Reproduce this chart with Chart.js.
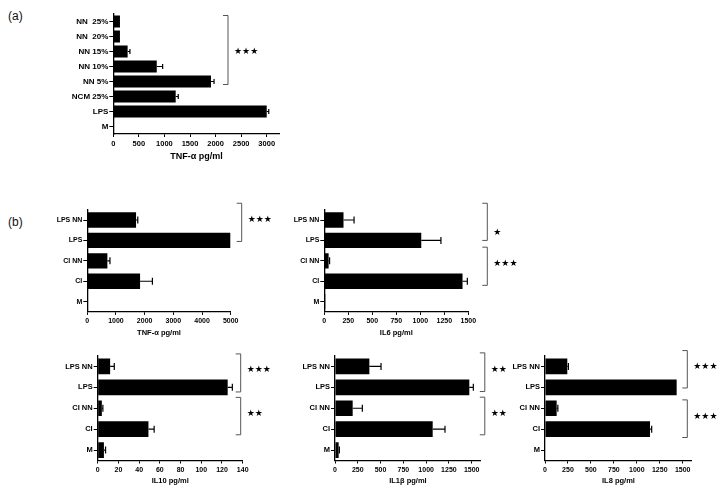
<!DOCTYPE html>
<html>
<head>
<meta charset="utf-8">
<script src="https://cdn.jsdelivr.net/npm/chart.js@4.4.0/dist/chart.umd.min.js"></script>
<style>
  body { margin: 0; background: #fff; width: 724px; height: 501px; position: relative; overflow: hidden; font-family: "Liberation Sans", Arial, sans-serif; }
  canvas { position: absolute; }
  .tag { position: absolute; font-size: 12px; color: #111; }
</style>
</head>
<body>
<div class="tag" style="left:8px;top:9px">(a)</div>
<div class="tag" style="left:8px;top:215px">(b)</div>
<canvas id="chartA" width="300" height="170" style="left:0;top:0"></canvas>
<canvas id="chartTnf" width="280" height="150" style="left:0;top:195px"></canvas>
<canvas id="chartIl6" width="244" height="150" style="left:280px;top:195px"></canvas>
<canvas id="chartIl10" width="275" height="156" style="left:0;top:345px"></canvas>
<canvas id="chartIl1b" width="240" height="156" style="left:275px;top:345px"></canvas>
<canvas id="chartIl8" width="214" height="156" style="left:510px;top:345px"></canvas>
<script>
// (a) dose response
const doseLabels = ["NN  25%", "NN  20%", "NN 15%", "NN 10%", "NN 5%", "NCM 25%", "LPS", "M"];
const tnfDose = [130, 130, 280, 850, 1910, 1220, 3000, 0];
const tnfDoseErr = [0, 0, 45, 115, 60, 50, 40, 0];
const tnfDoseTicks = [0, 500, 1000, 1500, 2000, 2500, 3000];

// (b) cytokines
const groupLabels = ["LPS NN", "LPS", "CI NN", "CI", "M"];
const tnf = [1700, 4990, 700, 1840, 15];
const tnfErr = [60, 0, 90, 430, 0];
const tnfTicks = [0, 1000, 2000, 3000, 4000, 5000];
const il6 = [200, 1010, 45, 1440, 10];
const il6Err = [110, 205, 10, 50, 0];
const il10 = [12, 125.5, 4, 49, 6];
const il10Err = [4, 4.5, 1, 5.5, 1.6];
const il10Ticks = [0, 20, 40, 60, 80, 100, 120, 140];
const il1b = [377, 1474, 194, 1072, 40];
const il1bErr = [128, 44, 106, 135, 8];
const il8 = [243, 1434, 127, 1144, 0];
const il8Err = [12, 0, 13, 18, 0];
const pgTicks = [0, 250, 500, 750, 1000, 1250, 1500];

const FONT = "'Liberation Sans', Arial, sans-serif";

// error bar plugin block
const errorBars = {
  id: "errorBars",
  afterDatasetsDraw(chart, args, opts) {
    const { ctx, data, scales: { x, y } } = chart;
    const ds = data.datasets[0];
    ctx.save();
    ctx.strokeStyle = "#000";
    ctx.lineWidth = 1.2;
    ds.data.forEach((v, i) => {
      const e = ds.errors[i];
      if (!e) return;
      const x0 = x.getPixelForValue(v);
      const x1 = x.getPixelForValue(v + e);
      const yc = y.getPixelForValue(i);
      ctx.beginPath();
      ctx.moveTo(x0, yc);
      ctx.lineTo(x1, yc);
      ctx.moveTo(x1, yc - opts.cap);
      ctx.lineTo(x1, yc + opts.cap);
      ctx.stroke();
    });
    ctx.restore();
  },
};

// significance brackets plugin block
const brackets = {
  id: "brackets",
  afterDatasetsDraw(chart, args, opts) {
    const { ctx, chartArea: { right }, scales: { y } } = chart;
    ctx.save();
    (opts.items || []).forEach((b) => {
      const bx = right + b.dx;
      const top = y.getPixelForValue(b.top);
      const bottom = y.getPixelForValue(b.bottom);
      ctx.strokeStyle = "#555";
      ctx.lineWidth = 1;
      ctx.beginPath();
      ctx.moveTo(bx - 5, top);
      ctx.lineTo(bx, top);
      ctx.lineTo(bx, bottom);
      ctx.lineTo(bx - 5, bottom);
      ctx.stroke();
      ctx.font = "bold 9px 'DejaVu Sans'";
      ctx.fillStyle = "#000";
      ctx.textAlign = "left";
      ctx.textBaseline = "middle";
      ctx.fillText(b.stars, bx + 6, y.getPixelForValue(b.at));
    });
    ctx.restore();
  },
};

function makeChart(id, labels, values, errors, o) {
  const config = {
    type: "bar",
    data: {
      labels: labels,
      datasets: [
        {
          data: values,
          errors: errors,
          backgroundColor: "#000",
          borderWidth: 0,
          barPercentage: o.barPct,
          categoryPercentage: 1,
        },
      ],
    },
    options: {
      responsive: false,
      animation: false,
      indexAxis: "y",
      layout: {
        padding: { left: 0, right: o.padRight, top: o.padTop, bottom: o.padBottom },
      },
      scales: {
        x: {
          min: 0,
          max: o.max,
          grid: { drawOnChartArea: false, drawTicks: true, tickLength: 3, color: "#000", lineWidth: 1 },
          border: { display: true, color: "#000", width: 1.3 },
          afterBuildTicks(scale) {
            scale.ticks = o.ticks.map((v) => ({ value: v }));
          },
          ticks: {
            autoSkip: false,
            maxRotation: 0,
            minRotation: 0,
            color: "#000",
            padding: o.tickPad,
            font: { family: FONT, size: o.xFont, weight: "bold" },
            callback: (v) => String(v),
          },
          title: {
            display: true,
            text: o.title,
            color: "#000",
            padding: 0,
            font: { family: FONT, size: o.titleFont, weight: "bold" },
          },
          afterFit(scale) {
            scale.height = o.xHeight;
          },
        },
        y: {
          grid: { offset: false, drawOnChartArea: false, drawTicks: true, tickLength: 4, color: "#000", lineWidth: 1 },
          border: { display: true, color: "#000", width: 1.3 },
          ticks: {
            color: "#000",
            padding: 1,
            font: { family: FONT, size: o.yFont, weight: "bold" },
          },
          afterFit(scale) {
            scale.width = o.yWidth;
          },
        },
      },
      plugins: {
        legend: { display: false },
        tooltip: { enabled: false },
        errorBars: { cap: o.cap },
        brackets: { items: o.brackets },
      },
    },
    plugins: [errorBars, brackets],
  };
  return new Chart(document.getElementById(id), config);
}

// (a)
makeChart("chartA", doseLabels, tnfDose, tnfDoseErr, {
  max: 3250, ticks: tnfDoseTicks, title: "TNF-\u03b1 pg/ml", barPct: 0.8, cap: 2.5,
  yWidth: 113.3, padRight: 20.5, padTop: 14, padBottom: 8, xHeight: 28, tickPad: 2.2,
  xFont: 7.5, yFont: 8, titleFont: 9,
  brackets: [{ top: -0.4, bottom: 4.2, at: 2, dx: -51.5, stars: "\u2605\u2605\u2605" }],
});

// (b) top row
const rowOne = { barPct: 0.75, cap: 3.5, padTop: 14.8, padBottom: 8, xHeight: 25.1, tickPad: 1.8, xFont: 7, yFont: 7, titleFont: 7.5 };
makeChart("chartTnf", groupLabels, tnf, tnfErr, Object.assign({}, rowOne, {
  max: 5000, ticks: tnfTicks, title: "TNF-\u03b1 pg/ml", yWidth: 87.3, padRight: 49.3,
  brackets: [{ top: -0.82, bottom: 1.05, at: 0, dx: 11, stars: "\u2605\u2605\u2605" }],
}));
makeChart("chartIl6", groupLabels, il6, il6Err, Object.assign({}, rowOne, {
  max: 1500, ticks: pgTicks, title: "IL6 pg/ml", yWidth: 44.3, padRight: 55.7,
  brackets: [
    { top: -0.82, bottom: 1.0, at: 0.6, dx: 19, stars: "\u2605" },
    { top: 1.33, bottom: 3.2, at: 2.15, dx: 19, stars: "\u2605\u2605\u2605" },
  ],
}));

// (b) bottom row
const rowTwo = { barPct: 0.75, cap: 3.5, padTop: 11, padBottom: 15.5, xHeight: 25, tickPad: 2.8, xFont: 7, yFont: 7.5, titleFont: 7.5 };
makeChart("chartIl10", groupLabels, il10, il10Err, Object.assign({}, rowTwo, {
  max: 140, ticks: il10Ticks, title: "IL10 pg/ml", yWidth: 97.7, padRight: 32.3,
  brackets: [
    { top: -0.6, bottom: 1.22, at: 0.15, dx: -2, stars: "\u2605\u2605\u2605" },
    { top: 1.48, bottom: 3.27, at: 2.25, dx: -2, stars: "\u2605\u2605" },
  ],
}));
makeChart("chartIl1b", groupLabels, il1b, il1bErr, Object.assign({}, rowTwo, {
  max: 1600, ticks: pgTicks, title: "IL1\u03b2 pg/ml", yWidth: 60, padRight: 34.2,
  brackets: [
    { top: -0.65, bottom: 1.2, at: 0.15, dx: 4, stars: "\u2605\u2605" },
    { top: 1.47, bottom: 3.27, at: 2.25, dx: 4, stars: "\u2605\u2605" },
  ],
}));
makeChart("chartIl8", groupLabels, il8, il8Err, Object.assign({}, rowTwo, {
  max: 1600, ticks: pgTicks, title: "IL8 pg/ml", yWidth: 35, padRight: 32.1,
  brackets: [
    { top: -0.76, bottom: 1.03, at: 0, dx: -4.6, stars: "\u2605\u2605\u2605" },
    { top: 1.6, bottom: 3.4, at: 2.4, dx: -4.6, stars: "\u2605\u2605\u2605" },
  ],
}));
</script>
</body>
</html>
